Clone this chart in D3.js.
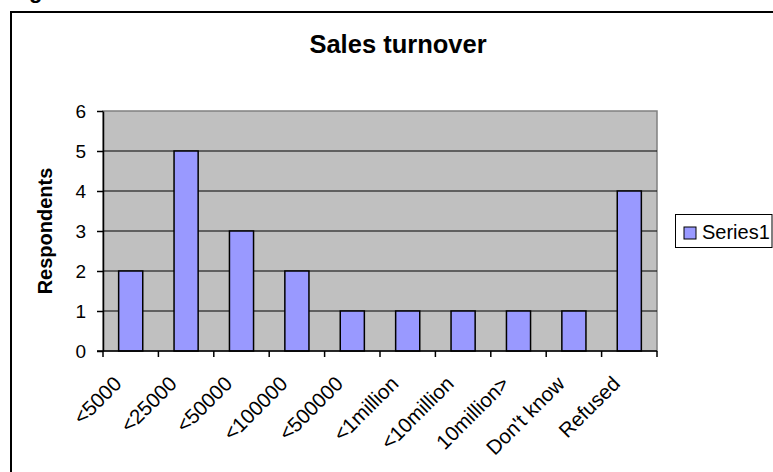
<!DOCTYPE html>
<html>
<head>
<meta charset="utf-8">
<script src="https://cdn.jsdelivr.net/npm/d3@7"></script>
<style>
  body { margin: 0; background: #fff; }
  svg { display: block; font-family: "Liberation Sans", Arial, sans-serif; }
</style>
</head>
<body>
<div id="chart"></div>
<script>
// chart data
const categories = ["<5000", "<25000", "<50000", "<100000", "<500000", "<1million", "<10million", "10million>", "Don't know", "Refused"];
const respondents = [2, 5, 3, 2, 1, 1, 1, 1, 1, 4];
const yTicks = [0, 1, 2, 3, 4, 5, 6];
const seriesName = "Series1";

((() => {
  const width = 773, height = 472;
  const plot = { left: 103, right: 657, top: 111, bottom: 351 };

  const svg = d3.select("#chart").append("svg")
    .attr("width", width)
    .attr("height", height);

  // caption above the frame, cut off by the top edge as in the original
  svg.append("text")
    .attr("x", 29).attr("y", -2)
    .attr("font-size", 22).attr("font-weight", "bold")
    .text("g");

  // outer frame (top and left only visible)
  svg.append("path")
    .attr("d", `M11,${height} V12 H${width}`)
    .attr("fill", "none").attr("stroke", "#000").attr("stroke-width", 2);

  const x = d3.scaleBand()
    .domain(categories)
    .range([plot.left, plot.right])
    .paddingInner(0.565).paddingOuter(0.2825);

  const xBand = d3.scaleBand().domain(categories).range([plot.left, plot.right]);

  const y = d3.scaleLinear().domain([0, 6]).range([plot.bottom, plot.top]);

  // plot background
  svg.append("rect")
    .attr("x", plot.left).attr("y", plot.top)
    .attr("width", plot.right - plot.left).attr("height", plot.bottom - plot.top)
    .attr("fill", "#c0c0c0")
    .attr("stroke", "#808080").attr("stroke-width", 1.5);

  // gridlines
  svg.append("g").selectAll("line")
    .data(yTicks.filter(d => d > 0 && d < 6))
    .join("line")
    .attr("x1", plot.left).attr("x2", plot.right)
    .attr("y1", d => y(d)).attr("y2", d => y(d))
    .attr("stroke", "#000").attr("stroke-width", 1);

  // bars
  svg.append("g").selectAll("rect")
    .data(respondents)
    .join("rect")
    .attr("x", (d, i) => x(categories[i]))
    .attr("y", d => y(d))
    .attr("width", x.bandwidth())
    .attr("height", d => y(0) - y(d))
    .attr("fill", "#9999ff")
    .attr("stroke", "#000").attr("stroke-width", 1.5);

  // y axis
  const yAxis = svg.append("g")
    .attr("transform", `translate(${plot.left},0)`)
    .call(d3.axisLeft(y).tickValues(yTicks).tickFormat(d3.format("d"))
      .tickSize(6).tickPadding(11).tickSizeOuter(0));
  yAxis.select(".domain").attr("stroke", "#000").attr("stroke-width", 1.5);
  yAxis.selectAll(".tick line").attr("stroke", "#000").attr("stroke-width", 1.5);
  yAxis.selectAll(".tick text")
    .attr("font-size", 19).attr("font-family", "Liberation Sans, Arial, sans-serif")
    .attr("fill", "#000");

  // x axis: ticks at category boundaries
  const bounds = categories.map(c => xBand(c)).concat([plot.right]);
  svg.append("line")
    .attr("x1", plot.left - 6).attr("x2", plot.right)
    .attr("y1", plot.bottom).attr("y2", plot.bottom)
    .attr("stroke", "#000").attr("stroke-width", 1.5);
  svg.append("g").selectAll("line")
    .data(bounds)
    .join("line")
    .attr("x1", d => d).attr("x2", d => d)
    .attr("y1", plot.bottom).attr("y2", plot.bottom + 6)
    .attr("stroke", "#000").attr("stroke-width", 1.5);

  // rotated category labels
  svg.append("g").selectAll("text")
    .data(categories)
    .join("text")
    .attr("transform", d => `translate(${xBand(d) + xBand.bandwidth() / 2 - 8},${plot.bottom + 34}) rotate(-45)`)
    .attr("text-anchor", "end")
    .attr("font-size", 20.5)
    .text(d => d);

  // title
  svg.append("text")
    .attr("x", 398).attr("y", 53)
    .attr("text-anchor", "middle")
    .attr("font-size", 25.5).attr("font-weight", "bold")
    .text("Sales turnover");

  // y axis title
  svg.append("text")
    .attr("transform", `translate(52,${(plot.top + plot.bottom) / 2}) rotate(-90)`)
    .attr("text-anchor", "middle")
    .attr("font-size", 20).attr("font-weight", "bold")
    .text("Respondents");

  // legend
  const legend = svg.append("g");
  legend.append("rect")
    .attr("x", 675.5).attr("y", 214.5).attr("width", 96.5).attr("height", 33)
    .attr("fill", "#fff").attr("stroke", "#000").attr("stroke-width", 1);
  legend.append("rect")
    .attr("x", 684).attr("y", 227).attr("width", 12).attr("height", 12)
    .attr("fill", "#9999ff").attr("stroke", "#000").attr("stroke-width", 1);
  legend.append("text")
    .attr("x", 702).attr("y", 239)
    .attr("font-size", 20)
    .text(seriesName);
})());
</script>
</body>
</html>
